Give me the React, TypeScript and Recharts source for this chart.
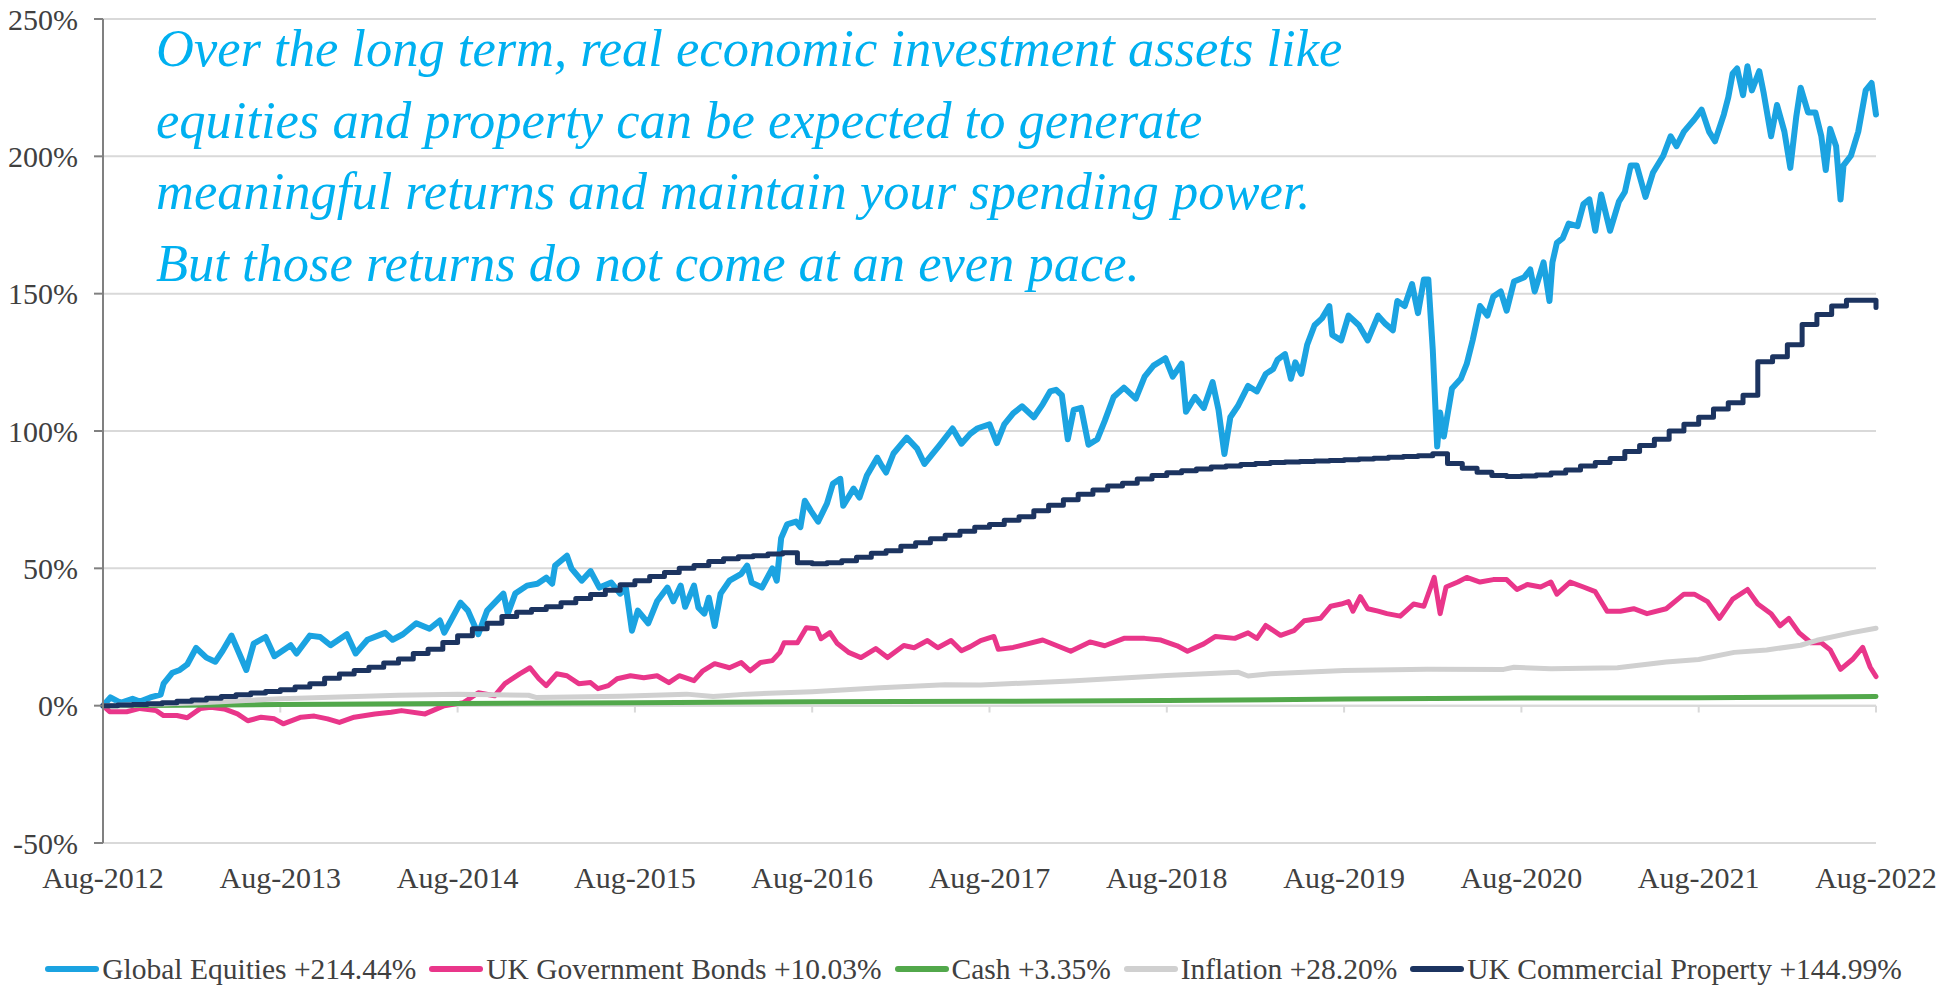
import { LineChart, Line, XAxis, YAxis, CartesianGrid, ReferenceLine, Legend } from 'recharts';

const FONT = "'Liberation Serif', 'Times New Roman', serif";

const xTickLabels = [
  'Aug-2012', 'Aug-2013', 'Aug-2014', 'Aug-2015', 'Aug-2016', 'Aug-2017',
  'Aug-2018', 'Aug-2019', 'Aug-2020', 'Aug-2021', 'Aug-2022'
];
const xTicks = xTickLabels.map((_, i) => i * 12); // months since Aug-2012
const yTicks = [-50, 0, 50, 100, 150, 200, 250];

const headlineLines = [
  'Over the long term, real economic investment assets like',
  'equities and property can be expected to generate',
  'meaningful returns and maintain your spending power.',
  'But those returns do not come at an even pace.'
];

// [month, % return]
const equitiesPoints: [number, number][] = [
  [0, 0], [0.5, 3], [1.2, 1], [2, 2.5], [2.5, 1.5], [3.2, 3], [3.9, 4], [4.1, 8], [4.7, 12], [5.2, 13],
  [5.7, 15], [6.3, 21], [7, 17.5], [7.6, 16], [8.1, 20], [8.7, 25.5], [9.3, 18], [9.7, 13], [10.2, 22.6], [11, 25],
  [11.6, 18], [12.7, 22], [13.1, 19], [14, 25.5], [14.7, 25], [15.4, 22], [16.5, 26], [17.1, 19], [17.9, 24], [19.1, 26.5],
  [19.6, 24], [20.3, 26], [21.2, 30], [22.1, 28], [22.8, 31], [23.1, 26.6], [24.2, 37.5], [24.7, 34.6], [25.4, 26], [26, 34.6],
  [27.1, 40.8], [27.4, 33.5], [27.9, 40.8], [28.7, 43.7], [29.4, 44.4], [30, 46.6], [30.4, 44.4], [30.6, 51], [31.4, 54.6], [31.7, 50],
  [32.4, 45.5], [33, 49], [33.6, 43], [34.4, 44.8], [35, 40.8], [35.4, 42.6], [35.8, 27.3], [36.2, 34.6], [36.9, 30], [37.5, 38],
  [38.2, 43], [38.6, 38], [39.1, 43.7], [39.4, 36], [40, 43.7], [40.3, 35.7], [40.7, 33.5], [41, 39.3], [41.4, 29], [41.8, 40.8],
  [42.4, 45.5], [43.2, 48], [43.6, 51], [43.9, 44.8], [44.6, 43], [45.3, 50], [45.6, 45.5], [45.9, 61], [46.3, 66], [46.9, 67],
  [47.2, 65], [47.5, 74.6], [47.9, 71], [48.4, 67], [49, 73.6], [49.4, 80.8], [49.9, 82.6], [50.1, 72.8], [50.8, 79], [51.2, 75.8],
  [51.7, 83.8], [52.4, 90.3], [52.7, 87.4], [53, 84.9], [53.5, 91.8], [54.4, 97.6], [55.1, 93.6], [55.6, 88], [56.2, 92], [56.6, 94.7],
  [57.5, 100.9], [58.1, 95.4], [58.7, 99], [59.2, 101], [60, 102.4], [60.5, 95.6], [61, 102.4], [61.6, 106.4], [62.2, 109], [63, 105],
  [63.6, 109.7], [64.1, 114.4], [64.5, 115], [64.9, 113], [65.3, 97], [65.7, 107.7], [66.2, 108.4], [66.7, 95], [67.3, 97], [67.8, 103.7],
  [68.4, 112.4], [69.1, 115.8], [69.9, 111.8], [70.5, 119.8], [71.1, 123.8], [71.9, 126.5], [72.4, 119.8], [73, 124.5], [73.3, 107], [73.9, 112.4],
  [74.5, 108.4], [75.1, 117.8], [75.5, 107.7], [75.9, 91.6], [76.3, 105], [76.8, 109], [77.5, 116.4], [78.1, 114.4], [78.7, 120.8], [79.2, 122.6],
  [79.5, 126], [80, 128], [80.4, 119], [80.7, 125], [81.1, 120.8], [81.5, 131.4], [82, 138.5], [82.5, 141], [83, 145.5], [83.2, 135],
  [83.8, 133], [84.3, 142], [85, 138.5], [85.6, 133], [86.3, 142], [86.8, 139], [87.3, 136.7], [87.6, 147.3], [88.1, 145.5], [88.6, 153.5],
  [89, 142.9], [89.4, 155.2], [89.7, 155.2], [90, 129.7], [90.3, 94.4], [90.5, 106.7], [90.75, 98], [91.3, 115.5], [91.9, 119], [92.3, 124.4],
  [92.7, 133], [93.2, 145.5], [93.7, 142], [94.1, 149], [94.6, 150.8], [95, 143.8], [95.5, 154.4], [96.2, 156], [96.6, 158.8], [96.9, 150.8],
  [97.5, 161.4], [97.9, 147.3], [98.1, 161.4], [98.4, 168.5], [98.8, 170.2], [99.2, 175.5], [99.8, 174.6], [100.2, 182.6], [100.6, 184.3], [101, 172.9],
  [101.4, 186.1], [102, 172.9], [102.6, 183.5], [103, 187], [103.4, 196.7], [103.8, 196.7], [104.4, 185.2], [104.9, 194], [105.6, 200.2], [106.1, 207.3],
  [106.5, 203.7], [107, 209], [107.7, 213.4], [108.2, 217], [108.7, 209], [109.1, 205.5], [109.7, 215.2], [110, 221.4], [110.3, 230.2], [110.6, 232],
  [111, 222.3], [111.3, 232.8], [111.6, 224], [112.1, 231], [112.4, 223], [112.9, 207.3], [113.3, 218.7], [113.8, 209], [114.2, 195.8], [114.6, 214.3],
  [114.9, 225], [115.4, 216], [115.9, 216], [116.3, 207.3], [116.6, 195], [116.9, 210], [117.3, 203.7], [117.6, 184.3], [117.8, 196.7], [118.3, 200.2],
  [118.8, 209], [119.3, 224], [119.7, 226.7], [120, 215.2]
];

const bondsPoints: [number, number][] = [
  [0, 0], [0.45, -2.2], [1.6, -2.2], [2.5, -1], [3.6, -1.8], [4.1, -3.6], [5, -3.6], [5.7, -4.4], [6.6, -1], [7.3, -0.6],
  [8.2, -1.2], [9.1, -3], [9.8, -5.5], [10.7, -4.2], [11.6, -4.8], [12.2, -6.6], [13.4, -4.2], [14.3, -3.8], [15.2, -4.8], [16, -6.1],
  [17, -4.2], [18.4, -3], [19.5, -2.4], [20.2, -1.8], [21.8, -3], [23.1, 0], [24.4, 1.1], [25.4, 4.7], [26.5, 3.6], [27.2, 8],
  [28.2, 11.6], [28.9, 13.8], [29.5, 9.8], [30, 7.3], [30.7, 11.6], [31.4, 10.9], [32.2, 8], [33, 8.4], [33.5, 6.2], [34.2, 7.3],
  [34.8, 9.8], [35.7, 10.9], [36.6, 10.2], [37.5, 10.9], [38.3, 8.4], [39, 10.9], [40, 9.1], [40.6, 12.7], [41.4, 15.3], [42.4, 13.8],
  [43.2, 15.7], [43.8, 12.7], [44.5, 15.7], [45.3, 16.4], [45.8, 19.3], [46.1, 22.9], [47, 22.9], [47.6, 28.4], [48.3, 28], [48.6, 24.4],
  [49.2, 26.6], [49.7, 22.6], [50.5, 19.3], [51.3, 17.5], [52.3, 20.8], [53.1, 17.5], [54.2, 21.9], [54.9, 21.1], [55.8, 23.7], [56.5, 21.1],
  [57.4, 23.7], [58.1, 20], [58.7, 21.5], [59.4, 23.7], [60.3, 25.2], [60.6, 20.5], [61.6, 21.2], [63.6, 23.9], [65.5, 19.8], [66.8, 23.2],
  [67.8, 21.8], [69.1, 24.5], [70.5, 24.5], [71.6, 23.9], [72.7, 21.8], [73.4, 19.8], [74.5, 22.5], [75.3, 25.2], [76.6, 24.5], [77.5, 26.5],
  [78.1, 24.5], [78.7, 29.2], [79.7, 25.6], [80.6, 27.3], [81.3, 30.9], [82.4, 31.8], [83.1, 36.2], [83.8, 37], [84.3, 37.9], [84.6, 34.4],
  [85.1, 39.7], [85.6, 35.3], [86.3, 34.4], [86.9, 33.5], [87.8, 32.6], [88.7, 37], [89.4, 36.2], [90.1, 46.7], [90.5, 33.5], [90.9, 43.2],
  [91.7, 45], [92.3, 46.7], [93.2, 45], [94.1, 45.9], [95, 45.9], [95.7, 42.3], [96.4, 44.1], [97.3, 43.2], [98, 45], [98.4, 40.6],
  [99.3, 45], [100.2, 43.2], [101, 41.5], [101.8, 34.4], [102.7, 34.4], [103.6, 35.3], [104.5, 33.5], [105.8, 35.3], [107, 40.6], [107.7, 40.6],
  [108.6, 37.9], [109.4, 31.8], [110.3, 38.8], [111.3, 42.3], [112, 37], [112.9, 33.5], [113.5, 29.1], [114.1, 31.8], [114.8, 26.5], [115.6, 22.9],
  [116.3, 22.9], [116.9, 20.3], [117.6, 13.2], [118.4, 16.8], [119.1, 21.2], [119.6, 14.1], [120, 10.6]
];

const cashPoints: [number, number][] = [
  [0, 0], [12, 0.4], [24, 0.8], [36, 1.1], [48, 1.4], [60, 1.6], [72, 1.9], [84, 2.4], [96, 2.8], [108, 2.9], [120, 3.35]
];

const inflationPoints: [number, number][] = [
  [0, 0], [6.6, 1.1], [12, 2.5], [20, 3.8], [24, 4.2], [28.8, 3.8], [29.3, 3], [35, 3.4], [39.5, 4.2], [41.3, 3.3],
  [43.6, 4.2], [48, 5.1], [52.6, 6.5], [57, 7.6], [59.4, 7.5], [65.5, 9], [72, 11], [76.8, 12.2], [77.5, 10.8], [79, 11.6],
  [84, 12.8], [89.6, 13.3], [94.8, 13.2], [95.5, 14], [98, 13.4], [102.5, 13.8], [105.8, 15.9], [108, 16.8], [110.4, 19.4], [112.6, 20.3],
  [114.9, 22], [116, 23.8], [118.3, 26.5], [120, 28.2]
];

// monthly valuation steps, Aug-2012 .. Aug-2022
const propertyMonthly = [
  0, 0.2, 0.4, 0.7, 1.1, 1.6, 2.1, 2.7, 3.3, 4.0, 4.6, 5.2,
  5.8, 6.8, 8.0, 10.0, 11.5, 12.8, 14.0, 15.5, 17.0, 19.0, 20.5, 23.0,
  25.5, 28.0, 30.0, 32.5, 34.0, 35.0, 36.0, 37.5, 39.0, 40.5, 42.0, 44.0,
  45.5, 47.0, 48.5, 50.0, 51.0, 52.5, 53.5, 54.2, 54.6, 55.2, 55.7, 52.0,
  51.7, 52.0, 52.8, 54.0, 55.5, 56.4, 58.0, 59.3, 60.8, 62.0, 63.5, 65.0,
  66.0, 67.5, 68.8, 71.0, 73.0, 75.0, 77.0, 78.5, 80.0, 81.0, 82.5, 83.8,
  84.8, 85.5, 86.2, 86.9, 87.3, 87.8, 88.2, 88.5, 88.7, 88.9, 89.1, 89.3,
  89.5, 89.8, 90.1, 90.4, 90.7, 91.0, 91.7, 88.2, 86.4, 85.0, 83.8, 83.4,
  83.6, 84.0, 84.7, 85.8, 87.3, 88.5, 90.0, 92.5, 94.7, 97.0, 100.0, 102.5,
  105.0, 108.0, 110.3, 113.0, 125.2, 127.0, 131.4, 138.8, 142.4, 145.5, 147.6, 147.6,
  145.0
];

const toRows = (pts: [number, number][]) => pts.map(([t, v]) => ({ t, v }));

const series = [
  { key: 'eq', name: 'Global Equities +214.44%', color: '#1ba3e1', width: 6, data: toRows(equitiesPoints), type: 'linear' },
  { key: 'bonds', name: 'UK Government Bonds +10.03%', color: '#e9368a', width: 5, data: toRows(bondsPoints), type: 'linear' },
  { key: 'cash', name: 'Cash +3.35%', color: '#52a84b', width: 5, data: toRows(cashPoints), type: 'linear' },
  { key: 'infl', name: 'Inflation +28.20%', color: '#d0d0d0', width: 5, data: toRows(inflationPoints), type: 'linear' },
  { key: 'prop', name: 'UK Commercial Property +144.99%', color: '#1c3460', width: 5, data: propertyMonthly.map((v, t) => ({ t, v })), type: 'stepAfter' }
] as const;

const renderLegend = () => (
  <div
    style={{
      display: 'flex',
      justifyContent: 'center',
      alignItems: 'center',
      height: 60,
      paddingTop: 28,
      boxSizing: 'border-box',
      fontFamily: FONT,
      fontSize: 29.5,
      color: '#404040',
      whiteSpace: 'nowrap'
    }}
  >
    {series.map((s) => (
      <span key={s.key} style={{ display: 'flex', alignItems: 'center', marginRight: 12 }}>
        <svg width={56} height={10}>
          <line x1={4} y1={5} x2={52} y2={5} stroke={s.color} strokeWidth={6} strokeLinecap="round" />
        </svg>
        <span style={{ marginLeft: 2 }}>{s.name}</span>
      </span>
    ))}
  </div>
);

export default function App() {
  return (
    <div style={{ position: 'absolute', left: 0, top: 0, width: 1958, height: 985, background: '#fff' }}>
      <LineChart width={1958} height={985} margin={{ top: 19, right: 82, bottom: 0, left: 0 }}>
        <CartesianGrid vertical={false} stroke="#d9d9d9" strokeWidth={2} />
        <XAxis
          type="number"
          dataKey="t"
          domain={[0, 120]}
          ticks={xTicks}
          tickFormatter={(v) => xTickLabels[Math.round(v / 12)]}
          axisLine={false}
          tickLine={false}
          tickSize={0}
          tickMargin={24}
          height={82}
          interval={0}
          tick={{ fill: '#404040', fontSize: 30, fontFamily: FONT }}
        />
        <YAxis
          type="number"
          domain={[-50, 250]}
          ticks={yTicks}
          tickFormatter={(v) => `${v}%`}
          width={103}
          axisLine={{ stroke: '#808080', strokeWidth: 2 }}
          tickLine={{ stroke: '#808080', strokeWidth: 2 }}
          tickSize={9}
          tickMargin={16}
          interval={0}
          tick={{ fill: '#404040', fontSize: 30, fontFamily: FONT }}
        />
        <ReferenceLine y={0} stroke="#d9d9d9" strokeWidth={2} />
        {xTicks.slice(1).map((t) => (
          <ReferenceLine
            key={t}
            segment={[{ x: t, y: 0 }, { x: t, y: -2.5 }]}
            stroke="#d9d9d9"
            strokeWidth={2}
          />
        ))}
        {series.map((s) => (
          <Line
            key={s.key}
            data={s.data}
            dataKey="v"
            name={s.name}
            type={s.type}
            stroke={s.color}
            strokeWidth={s.width}
            strokeLinejoin="round"
            strokeLinecap="round"
            dot={false}
            activeDot={false}
            isAnimationActive={false}
          />
        ))}
        <Legend verticalAlign="bottom" content={renderLegend} wrapperStyle={{ left: 0, width: 1958 }} />
      </LineChart>
      <div
        style={{
          position: 'absolute',
          left: 156,
          top: 13,
          fontFamily: FONT,
          fontStyle: 'italic',
          fontSize: 52.5,
          lineHeight: '71.5px',
          color: '#00b0f0',
          whiteSpace: 'nowrap',
          pointerEvents: 'none'
        }}
      >
        {headlineLines.map((l) => (
          <div key={l}>{l}</div>
        ))}
      </div>
    </div>
  );
}
